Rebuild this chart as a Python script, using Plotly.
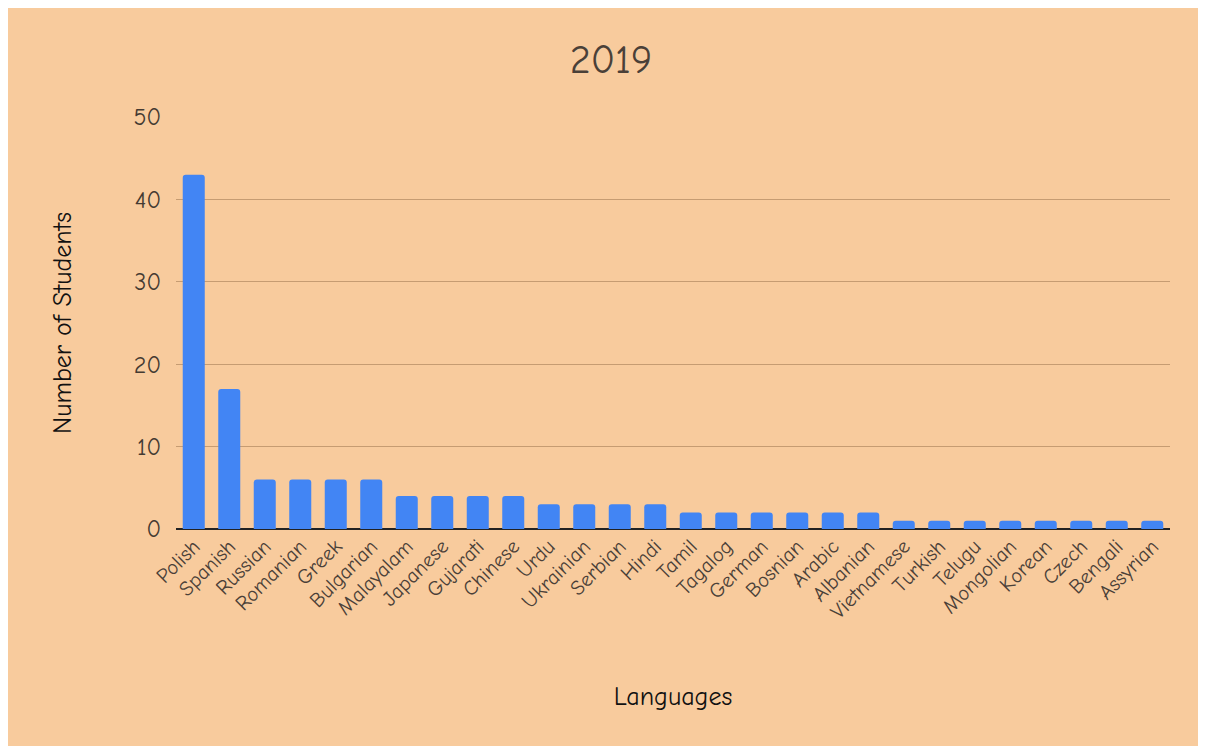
import plotly.graph_objects as go

languages = ["Polish", "Spanish", "Russian", "Romanian", "Greek", "Bulgarian", "Malayalam",
             "Japanese", "Gujarati", "Chinese", "Urdu", "Ukrainian", "Serbian", "Hindi",
             "Tamil", "Tagalog", "German", "Bosnian", "Arabic", "Albanian", "Vietnamese",
             "Turkish", "Telugu", "Mongolian", "Korean", "Czech", "Bengali", "Assyrian"]
students = [43, 17, 6, 6, 6, 6, 4, 4, 4, 4, 3, 3, 3, 3, 2, 2, 2, 2, 2, 2, 1, 1, 1, 1, 1, 1, 1, 1]
y_ticks = [0, 10, 20, 30, 40, 50]

FONT = "Comic Sans MS, Comic Neue, Noto Sans, sans-serif"
BG = "#F8CB9D"

fig = go.Figure(go.Bar(x=languages, y=students, marker_color="#4285F4", marker_line_width=0))

fig.update_layout(
    width=1206, height=746,
    paper_bgcolor=BG, plot_bgcolor=BG,
    margin=dict(l=168, r=44, t=109, b=225),
    bargap=0.38, barcornerradius=3,
    title=dict(text="2019", x=0.5, xanchor="center", y=0.932, yanchor="middle",
               font=dict(family=FONT, size=40, color="#4a4038")),
    font=dict(family=FONT, color="#4a4038"),
    showlegend=False,
)
fig.update_xaxes(tickangle=-45, tickfont=dict(size=21, color="#4a4038"),
                 title=dict(text="Languages", font=dict(size=26, color="#111111"), standoff=64),
                 showgrid=False, ticks="", showline=False)
fig.update_yaxes(range=[0, 50], tickvals=y_ticks, tickfont=dict(size=24, color="#443a32"),
                 title=dict(text="Number of Students", font=dict(size=26, color="#111111"), standoff=54),
                 showgrid=True, gridcolor="#C69C72", gridwidth=1,
                 zeroline=True, zerolinecolor="#222222", zerolinewidth=2, ticks="",
                 ticklabelstandoff=14)

fig.write_html("out.html")
